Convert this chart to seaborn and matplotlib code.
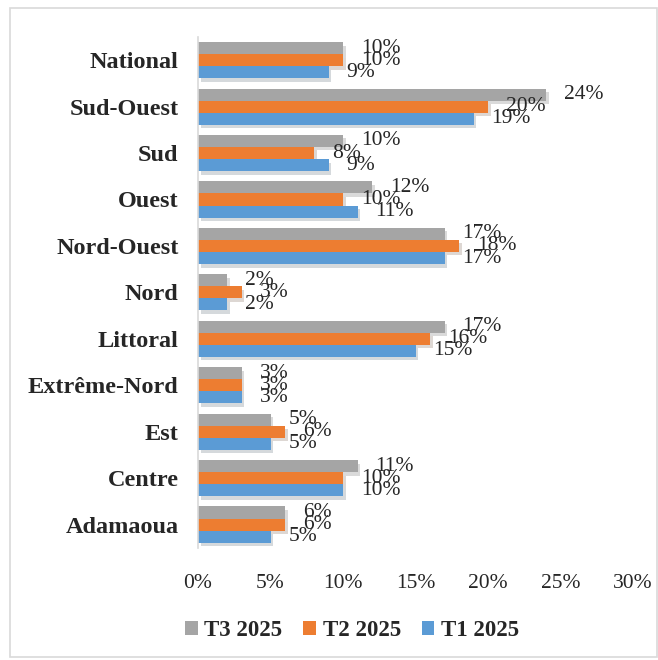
import seaborn as sns
import pandas as pd
import matplotlib.pyplot as plt
import matplotlib.patheffects as pe
from matplotlib.patches import Rectangle
from matplotlib.ticker import PercentFormatter

# donnees (en %)
regions = ["National", "Sud-Ouest", "Sud", "Ouest", "Nord-Ouest", "Nord",
           "Littoral", "Extrême-Nord", "Est", "Centre", "Adamaoua"]
t3_2025 = [10, 24, 10, 12, 17, 2, 17, 3, 5, 11, 6]
t2_2025 = [10, 20, 8, 10, 18, 3, 16, 3, 6, 10, 6]
t1_2025 = [9, 19, 9, 11, 17, 2, 15, 3, 5, 10, 5]
trimestres = ["T3 2025", "T2 2025", "T1 2025"]
couleurs = ["#A5A5A5", "#ED7D31", "#5B9BD5"]

df = pd.DataFrame({"region": regions * 3,
                   "trimestre": [t for t in trimestres for _ in regions],
                   "valeur": t3_2025 + t2_2025 + t1_2025})

sns.set_style("white")
plt.rcParams["font.family"] = ["Liberation Serif", "DejaVu Serif"]

fig = plt.figure(figsize=(6.58, 6.60), dpi=100)
ax = fig.add_axes([0.301, 0.170, 0.661, 0.774])

sns.barplot(data=df, y="region", x="valeur", hue="trimestre", hue_order=trimestres,
            order=regions, palette=couleurs, orient="h", width=0.78,
            saturation=1, linewidth=0, ax=ax, legend=True)

ombre = [pe.SimplePatchShadow(offset=(2, -2.5), alpha=0.18), pe.Normal()]
for cont in ax.containers:
    for barre in cont:
        barre.set_path_effects(ombre)
    ax.bar_label(cont, labels=[f"{v:.0f}%" for v in cont.datavalues],
                 padding=13, fontsize=15.5)

ax.set_xlim(0, 30)
ax.set_xticks(range(0, 31, 5))
ax.xaxis.set_major_formatter(PercentFormatter(decimals=0))
ax.set_xlabel("")
ax.set_ylabel("")
ax.tick_params(axis="x", labelsize=15.5, pad=19, length=0)
ax.tick_params(axis="y", labelsize=17.5, pad=14, length=0)
for lab in ax.get_yticklabels():
    lab.set_fontweight("bold")
for s in ["top", "right", "bottom"]:
    ax.spines[s].set_visible(False)
ax.spines["left"].set_color("#D9D9D9")
ax.spines["left"].set_linewidth(1.2)

handles, labels = ax.get_legend_handles_labels()
ax.get_legend().remove()
fig.legend(handles, labels, loc="center", bbox_to_anchor=(0.535, 0.045), ncol=3,
           frameon=False, handlelength=0.55, handleheight=0.55, handletextpad=0.3,
           columnspacing=0.9, prop={"size": 16.5, "weight": "bold"})

fig.patches.append(Rectangle((10 / 658, 3 / 660), 647 / 658, 649 / 660,
                             transform=fig.transFigure, fill=False,
                             edgecolor="#D9D9D9", linewidth=1.2))

fig.savefig("out.png", dpi=100)
